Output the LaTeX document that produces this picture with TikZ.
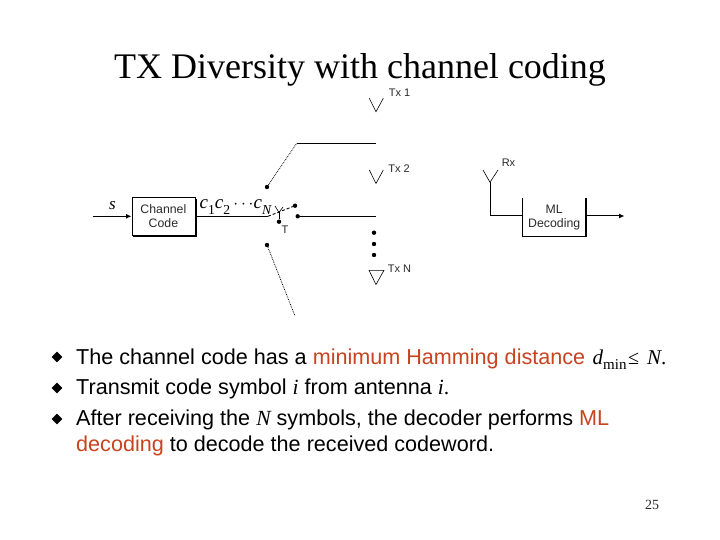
\documentclass[tikz,border=0pt]{standalone}
\usepackage{fontspec}
\setmainfont{Liberation Serif}
\newfontfamily\hv{Liberation Sans}
\usetikzlibrary{arrows.meta,shapes.geometric}
\definecolor{redt}{HTML}{C9431F}
\definecolor{grayt}{HTML}{2A2A2A}
\newcommand{\mysub}[1]{\raisebox{-0.28em}{\scalebox{0.72}{#1}}}
\tikzset{
  x=1pt,y=-1pt,
  lbl/.style={font=\hv\fontsize{11}{11}\selectfont,text=grayt,inner sep=0pt,align=center},
  boxlbl/.style={font=\hv\fontsize{12.3}{14}\selectfont,text=grayt,inner sep=0pt,align=center},
  wire/.style={line width=1pt,black},
  thinw/.style={line width=0.6pt,black},
  dotl/.style={line width=0.8pt,densely dotted},
  jack/.style={circle,fill=black,inner sep=0pt,minimum size=4.4pt},
  body/.style={font=\hv\fontsize{21.6}{21.6}\selectfont,anchor=base west,inner sep=0pt,text=black},
  sym/.style={font=\fontsize{21}{21}\selectfont\itshape,anchor=base west,inner sep=0pt},
  bul/.style={diamond,fill=black,inner sep=0pt,minimum size=11pt},
  fwd/.style={-{Latex[length=5.5pt,width=5pt]}},
}
\begin{document}
\begin{tikzpicture}
\useasboundingbox (0,0) rectangle (720,540);
\fill[white] (0,0) rectangle (720,540);
\node[inner sep=0pt,font=\fontsize{36}{36}\selectfont] (title) at (360,69.5) {TX Diversity with channel coding};

% channel code box
\fill[black] (133,199) rectangle (196.5,237);
\node[draw=black,fill=white,line width=0.8pt,minimum width=63pt,minimum height=37pt,inner sep=0pt,boxlbl,anchor=north west] (cc) at (131.5,197.5) {Channel\\Code};
\coordinate (sin) at (93,216.3);
\draw[wire,fwd] (sin) -- (cc.west |- sin);
\node[inner sep=0pt,font=\fontsize{17}{17}\selectfont\itshape] (s) at (112.5,206) {s};
\node[inner sep=0pt,anchor=base west,font=\fontsize{19}{19}\selectfont\itshape] (cseq) at (199.5,209) {c\mysub{\upshape 1}c\mysub{\upshape 2}\,$\cdots$c\mysub{N}};

% switch
\coordinate (swa) at (268,216.3);
\node[jack] (j1) at (295,205.7) {};
\node[jack] (j2) at (297.7,216.3) {};
\node[jack] (jt) at (267,187) {};
\node[jack] (jb) at (267,245) {};
\node[jack] (jc) at (279,221.7) {};
\coordinate (top) at (296.7,143.3);
\coordinate (toe) at (376,143.3);
\coordinate (midr) at (376,216.3);
\coordinate (bote) at (295,316);
\draw[wire] (cc.east |- swa) -- (swa);
\draw[line width=0.9pt,densely dashed] (swa) -- (j1);
\draw[wire] (j2) -- (midr);
\draw[dotl] (jt) -- (top);
\draw[wire] (top) -- (toe);
\draw[dotl] (jb) -- (bote);
\coordinate (x1) at (275,206);
\coordinate (x2) at (283,207);
\coordinate (xm) at (279,212.5);
\draw[thinw] (x1) -- (xm) -- (x2);
\draw[wire] (xm) -- (jc);
\node[lbl] (t) at (285,230) {T};

% antennas
\coordinate (a1) at (376,111.7); \coordinate (a1l) at (369.3,98.3); \coordinate (a1r) at (383.3,98.3);
\draw[thinw] (a1l) -- (a1) -- (a1r);
\node[lbl] (tx1) at (399.5,93) {Tx 1};
\coordinate (a2) at (376,183.5); \coordinate (a2l) at (369.3,170); \coordinate (a2r) at (383.3,170);
\draw[thinw] (a2l) -- (a2) -- (a2r);
\node[lbl] (tx2) at (399,169) {Tx 2};
\coordinate (a3) at (376,284.5); \coordinate (a3l) at (369,270.3); \coordinate (a3r) at (384,270.3);
\draw[thinw] (a3l) -- (a3) -- (a3r) -- cycle;
\node[lbl] (txn) at (399.5,268.5) {Tx N};
\node[jack] (d1) at (374,232.7) {};
\node[jack] (d2) at (374,244) {};
\node[jack] (d3) at (374,255) {};

% receiver
\coordinate (r0) at (490,182.3); \coordinate (rl) at (483,170); \coordinate (rr) at (498,170);
\draw[thinw] (rl) -- (r0) -- (rr);
\node[lbl] (rx) at (508.5,162.5) {Rx};
\node[minimum width=63.4pt,minimum height=38pt,inner sep=0pt,boxlbl,anchor=north west] (ml) at (522.3,198) {ML\\Decoding};
\draw[line width=0.7pt] (ml.north west) -- (ml.south west);
\draw[line width=1.6pt] (ml.south west) -- (ml.south east) -- (ml.north east);
\coordinate (rk) at (490,216);
\coordinate (oute) at (624.5,216);
\draw[wire] (r0) -- (rk) -- (ml.west |- rk);
\draw[wire,fwd] (ml.east |- rk) -- (oute);

% bullets
\node[bul] (b1) at (57,357) {};
\node[bul] (b2) at (57,388) {};
\node[bul] (b3) at (57,419) {};
\node[body] (l1) at (76,364) {The channel code has a \textcolor{redt}{minimum Hamming distance}};
\node[sym] (dm) at (592.5,364) {d};
\node[inner sep=0pt,anchor=base west,font=\fontsize{15}{15}\selectfont] (mn) at (603,369) {min};
\node[inner sep=0pt,anchor=base west,font=\fontsize{20}{20}\selectfont] (le) at (628,364) {≤};
\node[sym] (nn) at (647,364) {N};
\node[sym,font=\fontsize{21}{21}\selectfont] (pd) at (661,364) {.};
\node[body] (l2) at (76,394.5) {Transmit code symbol {\rmfamily\itshape i} from antenna {\rmfamily\itshape i}{\rmfamily .}};
\node[body] (l3) at (76,425) {After receiving the {\rmfamily\itshape N} symbols, the decoder performs \textcolor{redt}{ML}};
\node[body] (l4) at (76,451.5) {\textcolor{redt}{decoding} to decode the received codeword.};
\node[inner sep=0pt,font=\fontsize{14}{14}\selectfont,text=grayt] (pg) at (652,505) {25};
\end{tikzpicture}
\end{document}
